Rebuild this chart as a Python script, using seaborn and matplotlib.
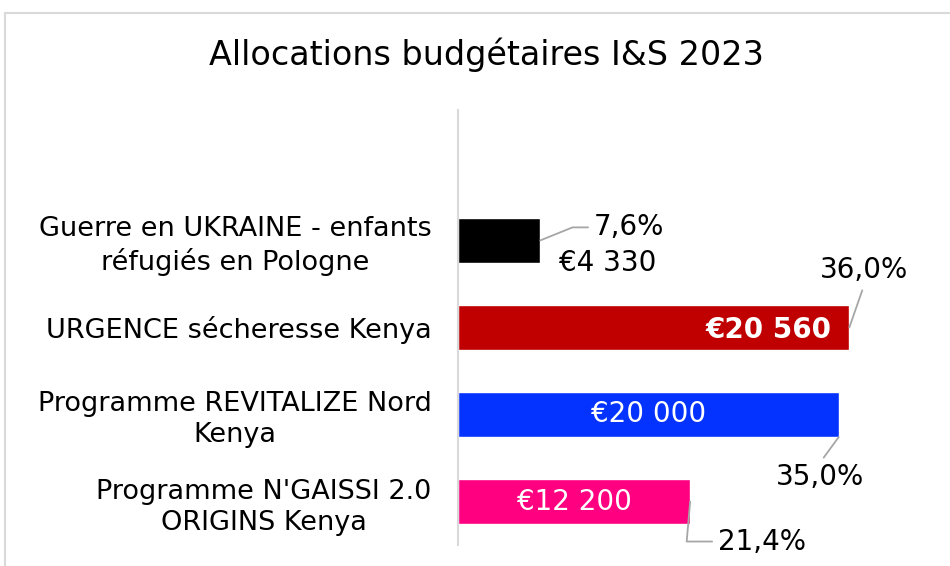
import matplotlib
matplotlib.use("Agg")
import matplotlib.pyplot as plt
import seaborn as sns
from matplotlib.patches import Rectangle

# data
categories = [
    "Guerre en UKRAINE - enfants\nréfugiés en Pologne",
    "URGENCE sécheresse Kenya",
    "Programme REVITALIZE Nord\nKenya",
    "Programme N'GAISSI 2.0\nORIGINS Kenya",
]
amounts = [4330, 20560, 20000, 12200]
amount_labels = ["€4 330", "€20 560", "€20 000", "€12 200"]
percent_labels = ["7,6%", "36,0%", "35,0%", "21,4%"]
bar_colors = ["#000000", "#C00000", "#0433FF", "#FF0080"]

sns.set_style("white")
plt.rcParams["font.family"] = ["DejaVu Sans"]
plt.rcParams["text.color"] = "black"
plt.rcParams["ytick.color"] = "black"

fig = plt.figure(figsize=(9.5, 5.66), dpi=100)
ax = fig.add_axes([0.482, 0.037, 0.497, 0.769])

sns.barplot(x=amounts, y=categories, hue=categories, palette=bar_colors,
            legend=False, width=0.52, orient="h", saturation=1, ax=ax)

ax.set_xlim(0, 24800)
ax.set_ylim(3.5, -1.5)
ax.set_xticks([])
ax.set_xlabel("")
ax.set_ylabel("")
for s in ["top", "right", "bottom"]:
    ax.spines[s].set_visible(False)
ax.spines["left"].set_color("#d9d9d9")
ax.spines["left"].set_linewidth(1.5)
ax.tick_params(axis="y", length=0, pad=19, labelsize=19.5, labelcolor="black")
for t in ax.get_yticklabels():
    t.set_multialignment("center")
    t.set_linespacing(1.25)

line_style = dict(arrowstyle="-", color="#a6a6a6", lw=1.3, shrinkA=2, shrinkB=0)

# black bar: both labels outside
ax.annotate(percent_labels[0], xy=(amounts[0], 0), xytext=(89, 13),
            textcoords="offset pixels", ha="center", va="center", fontsize=20,
            arrowprops=dict(line_style, relpos=(0, 0.5),
                            connectionstyle="angle,angleA=0,angleB=22,rad=0"))
ax.annotate(amount_labels[0], xy=(amounts[0], 0), xytext=(67, -23),
            textcoords="offset pixels", ha="center", va="center", fontsize=20)

# red bar
ax.annotate(amount_labels[1], xy=(amounts[1], 1), xytext=(-18, -3),
            textcoords="offset pixels", ha="right", va="center", fontsize=20,
            color="white", fontweight="bold")
ax.annotate(percent_labels[1], xy=(amounts[1], 1), xytext=(15, 57),
            textcoords="offset pixels", ha="center", va="center", fontsize=20,
            arrowprops=dict(line_style, relpos=(0.5, 0)))

# blue bar
ax.annotate(amount_labels[2], xy=(amounts[2] / 2, 2), xytext=(0, 0),
            textcoords="offset pixels", ha="center", va="center", fontsize=20,
            color="white")
ax.annotate(percent_labels[2], xy=(amounts[2], 2.26), xytext=(-19, -40),
            textcoords="offset pixels", ha="center", va="center", fontsize=20,
            arrowprops=dict(line_style, relpos=(0.5, 1)))

# pink bar
ax.annotate(amount_labels[3], xy=(amounts[3] / 2, 3), xytext=(0, 0),
            textcoords="offset pixels", ha="center", va="center", fontsize=20,
            color="white")
ax.annotate(percent_labels[3], xy=(amounts[3], 3), xytext=(72, -40),
            textcoords="offset pixels", ha="center", va="center", fontsize=20,
            arrowprops=dict(line_style, relpos=(0, 0.5),
                            connectionstyle="angle,angleA=0,angleB=85,rad=0"))

fig.text(0.512, 0.903, "Allocations budgétaires I&S 2023", ha="center", va="center",
         fontsize=24, color="black")

# chart frame
fig.patches.append(Rectangle((5 / 950, -0.1), 1.1, 1.1 - 13 / 566, transform=fig.transFigure,
                             fill=False, edgecolor="#d9d9d9", lw=1.5))

fig.savefig("out.png", dpi=100)
